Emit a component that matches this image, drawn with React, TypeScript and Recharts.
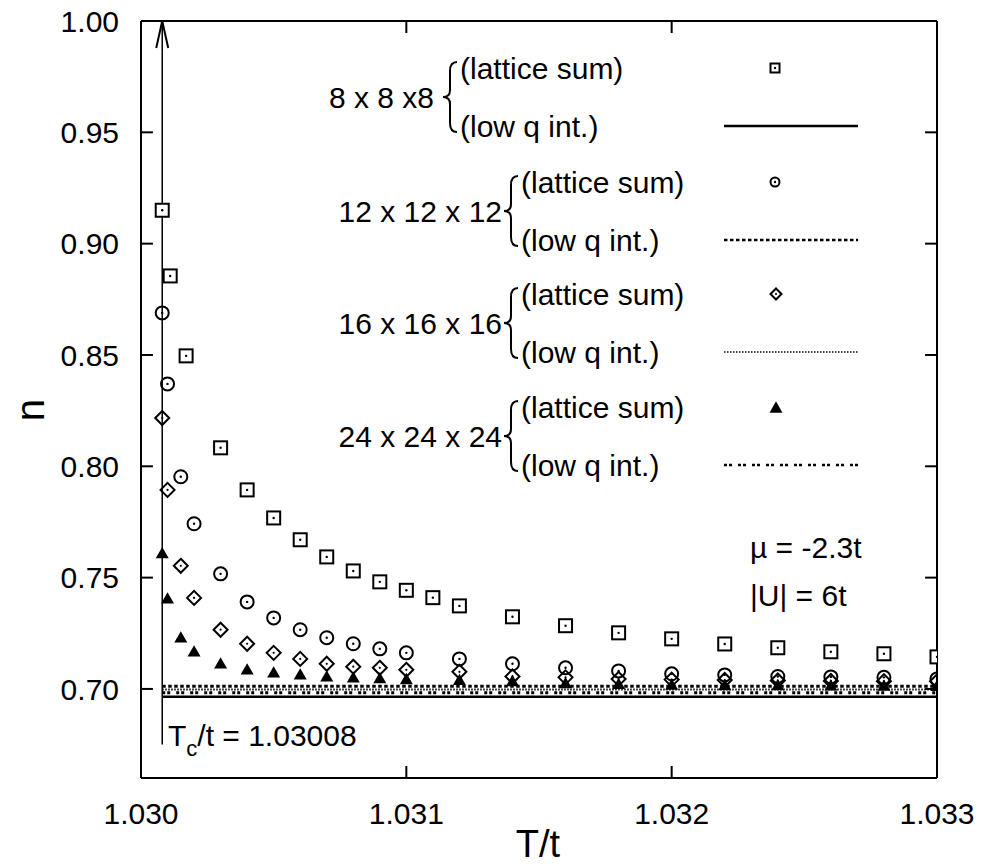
import React from "react";
import {
  ComposedChart,
  XAxis,
  YAxis,
  Scatter,
  Line,
  ReferenceLine,
  Customized,
} from "recharts";

// lattice sum, 8 x 8 x 8 (squares)
const tSquare = [1.03008, 1.03011, 1.03017, 1.0303, 1.0304, 1.0305, 1.0306, 1.0307, 1.0308, 1.0309, 1.031, 1.0311, 1.0312, 1.0314, 1.0316, 1.0318, 1.032, 1.0322, 1.0324, 1.0326, 1.0328, 1.033];
const nSquare = [0.915, 0.8855, 0.8496, 0.8083, 0.7894, 0.7768, 0.767, 0.7593, 0.753, 0.7481, 0.7443, 0.741, 0.7373, 0.7324, 0.7284, 0.7252, 0.7225, 0.7202, 0.7185, 0.7167, 0.7158, 0.7144];

// lattice sum, 12 x 12 x 12 (circles)
const tCircle = [1.03008, 1.0301, 1.03015, 1.0302, 1.0303, 1.0304, 1.0305, 1.0306, 1.0307, 1.0308, 1.0309, 1.031, 1.0312, 1.0314, 1.0316, 1.0318, 1.032, 1.0322, 1.0324, 1.0326, 1.0328, 1.033];
const nCircle = [0.8689, 0.837, 0.7953, 0.7742, 0.7517, 0.7391, 0.7319, 0.7266, 0.723, 0.7203, 0.718, 0.7162, 0.7135, 0.7113, 0.7095, 0.7081, 0.7068, 0.7063, 0.7056, 0.7054, 0.7052, 0.7045];

// lattice sum, 16 x 16 x 16 (diamonds)
const tDiamond = [1.03008, 1.0301, 1.03015, 1.0302, 1.0303, 1.0304, 1.0305, 1.0306, 1.0307, 1.0308, 1.0309, 1.031, 1.0312, 1.0314, 1.0316, 1.0318, 1.032, 1.0322, 1.0324, 1.0326, 1.0328, 1.033];
const nDiamond = [0.8217, 0.7894, 0.7553, 0.7409, 0.7266, 0.7203, 0.7162, 0.7135, 0.7113, 0.71, 0.7095, 0.7086, 0.7077, 0.7056, 0.7052, 0.7045, 0.7042, 0.704, 0.7038, 0.7036, 0.7035, 0.7034];

// lattice sum, 24 x 24 x 24 (filled triangles)
const tTriangle = [1.03008, 1.0301, 1.03015, 1.0302, 1.0303, 1.0304, 1.0305, 1.0306, 1.0307, 1.0308, 1.0309, 1.031, 1.0312, 1.0314, 1.0316, 1.0318, 1.032, 1.0322, 1.0324, 1.0326, 1.0328, 1.033];
const nTriangle = [0.7612, 0.7409, 0.7234, 0.7171, 0.7117, 0.709, 0.7077, 0.7068, 0.7059, 0.7054, 0.7051, 0.7047, 0.7043, 0.7038, 0.7028, 0.7025, 0.7022, 0.702, 0.7019, 0.7018, 0.7017, 0.7016];

// low q integration curves
const tLowQ = [1.03008, 1.033];
const nLowQ8 = [0.6965, 0.6965];
const nLowQ12 = [0.7012, 0.7012];
const nLowQ16 = [0.6997, 0.6997];
const nLowQ24 = [0.6983, 0.6983];

const xTicks = [1.03, 1.031, 1.032, 1.033];
const yTicks = [0.7, 0.75, 0.8, 0.85, 0.9, 0.95, 1.0];
const tc = 1.03008;
const arrowBottom = 0.675;

const X_MIN = 1.03;
const X_MAX = 1.033;
const Y_MIN = 0.66;
const Y_MAX = 1.0;
const TICK_X = 0.000045; // ~12px
const TICK_Y = 0.0054; // ~12px

const FONT = "'Liberation Sans', Arial, Helvetica, sans-serif";

const zip = (t: number[], n: number[]) => t.map((v, i) => ({ t: v, n: n[i] }));

const squares = zip(tSquare, nSquare);
const circles = zip(tCircle, nCircle);
const diamonds = zip(tDiamond, nDiamond);
const triangles = zip(tTriangle, nTriangle);

const SquareMark = ({ cx, cy, s = 13 }: any) => (
  <g>
    <rect x={cx - s / 2} y={cy - s / 2} width={s} height={s} fill="#fff" stroke="#000" strokeWidth={2} />
    <circle cx={cx} cy={cy} r={1.2} fill="#000" />
  </g>
);

const CircleMark = ({ cx, cy, r = 6.5 }: any) => (
  <g>
    <circle cx={cx} cy={cy} r={r} fill="none" stroke="#000" strokeWidth={2} />
    <circle cx={cx} cy={cy} r={1.2} fill="#000" />
  </g>
);

const DiamondMark = ({ cx, cy, d = 7 }: any) => (
  <g>
    <path
      d={`M${cx},${cy - d} L${cx + d},${cy} L${cx},${cy + d} L${cx - d},${cy} Z`}
      fill="none"
      stroke="#000"
      strokeWidth={2}
    />
    <circle cx={cx} cy={cy} r={1.1} fill="#000" />
  </g>
);

const TriangleMark = ({ cx, cy, w = 13 }: any) => {
  const h = w * 0.87;
  return (
    <path
      d={`M${cx},${cy - h / 2} L${cx + w / 2},${cy + h / 2} L${cx - w / 2},${cy + h / 2} Z`}
      fill="#000"
    />
  );
};

const ArrowHead = ({ cx, cy }: any) => (
  <path
    d={`M${cx - 6},${cy + 27} L${cx},${cy} L${cx + 6},${cy + 27}`}
    fill="none"
    stroke="#000"
    strokeWidth={2}
  />
);

const legendGroups = [
  { label: "8 x 8 x8", cy: 97, labelEnd: 434, textStart: 460, marker: "square", dash: undefined, lw: 2.5 },
  { label: "12 x 12 x 12", cy: 211, labelEnd: 502, textStart: 521, marker: "circle", dash: "3.5 2.5", lw: 2.5 },
  { label: "16 x 16 x 16", cy: 323, labelEnd: 502, textStart: 521, marker: "diamond", dash: "1.5 1.5", lw: 1.5 },
  { label: "24 x 24 x 24", cy: 436, labelEnd: 502, textStart: 521, marker: "triangle", dash: "3 2 3 6", lw: 2.5 },
];

const Brace = ({ x, cy, h }: { x: number; cy: number; h: number }) => {
  const top = cy - h / 2;
  const bot = cy + h / 2;
  const d = `M${x + 9},${top} Q${x + 2},${top} ${x + 2},${top + 9} L${x + 2},${cy - 7} Q${x + 2},${cy} ${x - 5},${cy} Q${x + 2},${cy} ${x + 2},${cy + 7} L${x + 2},${bot - 9} Q${x + 2},${bot} ${x + 9},${bot}`;
  return <path d={d} fill="none" stroke="#000" strokeWidth={2} />;
};

const Annotations = () => (
  <g fontFamily={FONT} fill="#000">
    {legendGroups.map((g) => (
      <g key={g.label}>
        <text x={g.labelEnd} y={g.cy + 11} fontSize={30} textAnchor="end">
          {g.label}
        </text>
        <Brace x={g.textStart - 12} cy={g.cy} h={70} />
        <text x={g.textStart} y={g.cy - 18} fontSize={30}>
          (lattice sum)
        </text>
        <text x={g.textStart} y={g.cy + 40} fontSize={30}>
          (low q int.)
        </text>
        {g.marker === "square" && <SquareMark cx={775} cy={g.cy - 29} s={9} />}
        {g.marker === "circle" && <CircleMark cx={775} cy={g.cy - 29} r={4.5} />}
        {g.marker === "diamond" && <DiamondMark cx={776} cy={g.cy - 29} d={5.5} />}
        {g.marker === "triangle" && <TriangleMark cx={776} cy={g.cy - 29} w={13} />}
        <line x1={724} x2={858} y1={g.cy + 29} y2={g.cy + 29} stroke="#000" strokeWidth={g.lw} strokeDasharray={g.dash} />
      </g>
    ))}
    <text x={750} y={558} fontSize={30}>
      {"\u00b5 = -2.3t"}
    </text>
    <text x={750} y={606} fontSize={30}>
      |U| = 6t
    </text>
    <text x={168} y={746} fontSize={30}>
      T<tspan fontSize={22} dy={10}>c</tspan>
      <tspan dy={-10}>/t = 1.03008</tspan>
    </text>
    <text x={538} y={857} fontSize={38} textAnchor="middle">
      T/t
    </text>
    <text x={44} y={410} fontSize={40} textAnchor="middle" transform="rotate(-90 44 410)">
      n
    </text>
  </g>
);

export default function App() {
  return (
    <div style={{ position: "absolute", left: 0, top: 0, background: "#fff" }}>
      <ComposedChart
        width={988}
        height={867}
        margin={{ top: 21, right: 51, bottom: 0, left: 0 }}
        style={{ fontFamily: FONT }}
      >
        <XAxis
          type="number"
          dataKey="t"
          domain={[X_MIN, X_MAX]}
          ticks={xTicks}
          allowDataOverflow
          height={89}
          tickLine={false}
          tickSize={0}
          tickMargin={25}
          tickFormatter={(v: number) => v.toFixed(3)}
          tick={{ fill: "#000", fontSize: 30 }}
          axisLine={{ stroke: "#000", strokeWidth: 2 }}
        />
        <YAxis
          type="number"
          dataKey="n"
          domain={[Y_MIN, Y_MAX]}
          ticks={yTicks}
          allowDataOverflow
          width={141}
          tickLine={false}
          tickSize={0}
          tickMargin={22}
          tickFormatter={(v: number) => v.toFixed(2)}
          tick={{ fill: "#000", fontSize: 30 }}
          axisLine={{ stroke: "#000", strokeWidth: 2 }}
        />
        <ReferenceLine y={Y_MAX} stroke="#000" strokeWidth={2} />
        <ReferenceLine x={X_MAX} stroke="#000" strokeWidth={2} />
        {xTicks.slice(1, -1).map((v) => (
          <ReferenceLine key={`b${v}`} segment={[{ x: v, y: Y_MIN }, { x: v, y: Y_MIN + TICK_Y }]} stroke="#000" strokeWidth={2} />
        ))}
        {xTicks.slice(1, -1).map((v) => (
          <ReferenceLine key={`t${v}`} segment={[{ x: v, y: Y_MAX }, { x: v, y: Y_MAX - TICK_Y }]} stroke="#000" strokeWidth={2} />
        ))}
        {yTicks.slice(0, -1).map((v) => (
          <ReferenceLine key={`l${v}`} segment={[{ x: X_MIN, y: v }, { x: X_MIN + TICK_X, y: v }]} stroke="#000" strokeWidth={2} />
        ))}
        {yTicks.slice(0, -1).map((v) => (
          <ReferenceLine key={`r${v}`} segment={[{ x: X_MAX, y: v }, { x: X_MAX - TICK_X, y: v }]} stroke="#000" strokeWidth={2} />
        ))}
        <ReferenceLine segment={[{ x: tc, y: arrowBottom }, { x: tc, y: Y_MAX }]} stroke="#000" strokeWidth={1.5} />
        <Scatter data={[{ t: tc, n: Y_MAX }]} shape={ArrowHead} isAnimationActive={false} />

        <Line data={zip(tLowQ, nLowQ8)} dataKey="n" stroke="#000" strokeWidth={2.5} dot={false} isAnimationActive={false} />
        <Line data={zip(tLowQ, nLowQ12)} dataKey="n" stroke="#000" strokeWidth={3} strokeDasharray="3.5 2.5" dot={false} isAnimationActive={false} />
        <Line data={zip(tLowQ, nLowQ16)} dataKey="n" stroke="#000" strokeWidth={2} strokeDasharray="1.5 1.5" dot={false} isAnimationActive={false} />
        <Line data={zip(tLowQ, nLowQ24)} dataKey="n" stroke="#000" strokeWidth={3} strokeDasharray="3 2 3 6" dot={false} isAnimationActive={false} />

        <Scatter data={squares} shape={SquareMark} isAnimationActive={false} />
        <Scatter data={circles} shape={CircleMark} isAnimationActive={false} />
        <Scatter data={diamonds} shape={DiamondMark} isAnimationActive={false} />
        <Scatter data={triangles} shape={TriangleMark} isAnimationActive={false} />
        <Customized component={Annotations} />
      </ComposedChart>
    </div>
  );
}
